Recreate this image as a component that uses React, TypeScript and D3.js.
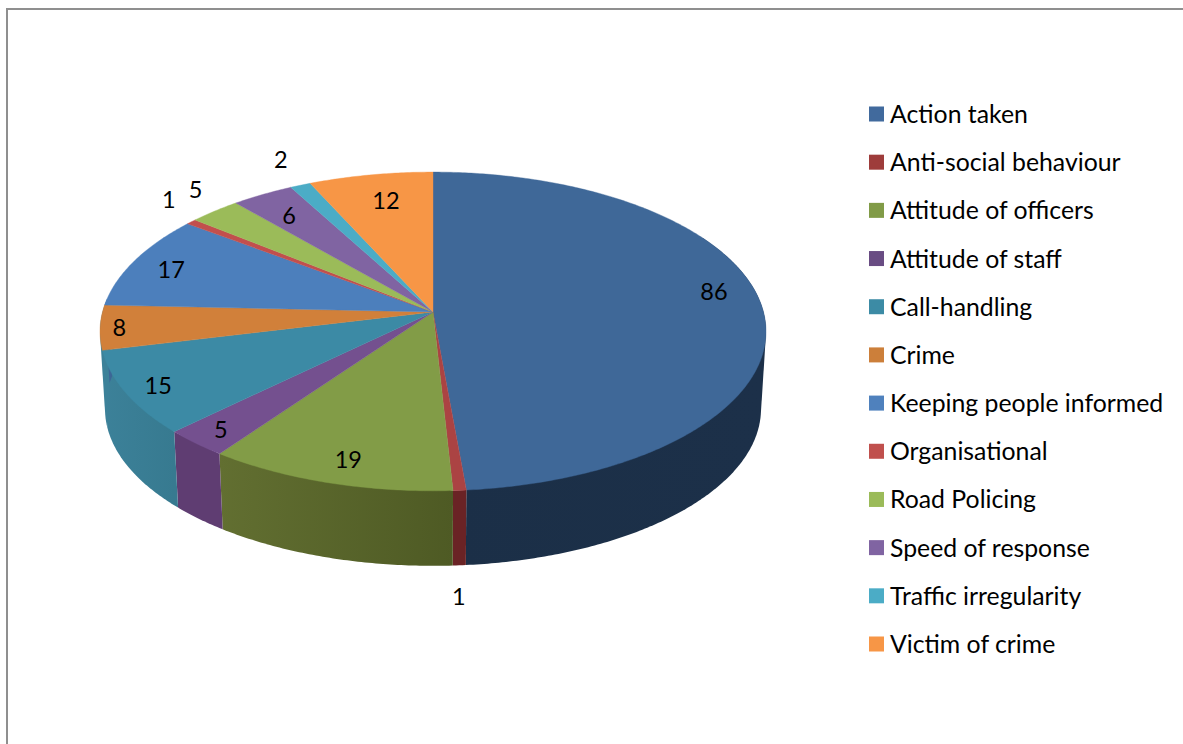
import React from "react";
import * as d3 from "d3";

// Complaint counts per category, clockwise from twelve o'clock.
const categories = [
  "Action taken",
  "Anti-social behaviour",
  "Attitude of officers",
  "Attitude of staff",
  "Call-handling",
  "Crime",
  "Keeping people informed",
  "Organisational",
  "Road Policing",
  "Speed of response",
  "Traffic irregularity",
  "Victim of crime",
];
const counts = [86, 1, 19, 5, 15, 8, 17, 1, 5, 6, 2, 12];

const topColors = ["#3f6898", "#ab4343", "#829c47", "#74508f", "#3c8aa5", "#d1803a", "#4c7fbc", "#c24f4d", "#9bbb59", "#8064a2", "#4bacc6", "#f79646"];
const legendColors = ["#416a9d", "#9e3c3b", "#819b47", "#694c83", "#3c8ba5", "#cc7f3a", "#4f81bd", "#c0504d", "#9bbb59", "#8064a2", "#4bacc6", "#f79646"];
// The sliver of wall under "Crime" sits at the silhouette and reads in the neighbouring teal.
const wallLeft = ["#1b2f47", "#6a2325", "#626f31", "#5f3d72", "#3c8199", "#3c8199", "#3c6696", "#9a3d3b", "#7c9647", "#664f82", "#3b8ca0", "#c67838"];
const wallRight = ["#1c3049", "#6a2325", "#4e5a24", "#5f3d72", "#377a90", "#3c8199", "#3c6696", "#9a3d3b", "#7c9647", "#664f82", "#3b8ca0", "#c67838"];

// Per-label shift away from the slice's inner anchor, as the chart's automatic placement leaves them.
const labelShiftX = [18, 5, -3, -26, -32, -48, -21, -68, -60, -5, -44, 4];
const labelShiftY = [-15, 145, 14, 14, 9, 3, -2, -40, -41, -1, -50, 0];

const FONT = "Lato, Carlito, sans-serif";
const CENTER_X = 433;
const TOP_APEX_Y = 312;
const BOTTOM_APEX_Y = 389.7;
const RADIUS_X = 330.5;
const RADIUS_Y = 157;
const PERSPECTIVE = 0.122;
const BOTTOM_SCALE = 0.985;
// Range of pie angles whose outer wall can face the viewer.
const WALL_FROM = Math.PI / 3;
const WALL_TO = (275 / 180) * Math.PI;

// Perspective projection of a point on the pie disc; angle 0 is the far side.
function project(angle: number, r: number, apexY: number, scale: number): [number, number] {
  const u = r * Math.sin(angle);
  const v = -r * Math.cos(angle);
  const s = scale / (1 - PERSPECTIVE * v);
  return [CENTER_X + RADIUS_X * u * s, apexY + RADIUS_Y * v * s];
}

const arcAngles = (a0: number, a1: number) => {
  const n = Math.max(2, Math.ceil((a1 - a0) / 0.01));
  return d3.range(n + 1).map((i) => a0 + ((a1 - a0) * i) / n);
};

const pathOf = d3.line();

const slices = d3.pie<number>().sort(null)(counts);

const legendY = d3
  .scalePoint<string>()
  .domain(categories)
  .range([113.5, 643.5]);

export default function App() {
  return (
    <svg
      width={1183}
      height={744}
      viewBox="0 0 1183 744"
      style={{ position: "absolute", left: 0, top: 0, display: "block", background: "#fff" }}
    >
      <defs>
        {slices.map((s, i) => {
          const xs = arcAngles(s.startAngle, s.endAngle).map((a) => project(a, 1, TOP_APEX_Y, 1)[0]);
          return (
            <linearGradient
              key={i}
              id={`wall-${i}`}
              gradientUnits="userSpaceOnUse"
              x1={d3.min(xs)}
              x2={d3.max(xs)}
              y1={0}
              y2={0}
            >
              <stop offset="0" stopColor={wallLeft[i]} />
              <stop offset="1" stopColor={wallRight[i]} />
            </linearGradient>
          );
        })}
      </defs>

      {/* outer frame: only the top and left edges fall inside the canvas */}
      <path d="M7 744V9H1183" fill="none" stroke="#8f8f8f" strokeWidth={2} />

      {/* side walls: the hull of both rims also fills the tangent at the silhouette */}
      {slices.map((s, i) => {
        const a0 = Math.max(s.startAngle, WALL_FROM);
        const a1 = Math.min(s.endAngle, WALL_TO);
        if (a1 <= a0) return null;
        const angles = arcAngles(a0, a1);
        const hull = d3.polygonHull([
          ...angles.map((a) => project(a, 1, TOP_APEX_Y, 1)),
          ...angles.map((a) => project(a, 1, BOTTOM_APEX_Y, BOTTOM_SCALE)),
        ]);
        return <path key={i} d={pathOf(hull!) + "Z"} fill={`url(#wall-${i})`} />;
      })}

      {/* top faces */}
      {slices.map((s, i) => {
        const rim = arcAngles(s.startAngle, s.endAngle).map((a) => project(a, 1, TOP_APEX_Y, 1));
        return (
          <path
            key={i}
            d={pathOf([[CENTER_X, TOP_APEX_Y], ...rim]) + "Z"}
            fill={topColors[i]}
            stroke={topColors[i]}
            strokeWidth={0.4}
          />
        );
      })}

      {/* value labels */}
      {slices.map((s, i) => {
        const [x, y] = project((s.startAngle + s.endAngle) / 2, 0.8, TOP_APEX_Y, 1);
        return (
          <text
            key={i}
            x={x + labelShiftX[i]}
            y={y + labelShiftY[i]}
            textAnchor="middle"
            dominantBaseline="central"
            fontFamily={FONT}
            fontSize={23.5}
            fill="#000"
          >
            {counts[i]}
          </text>
        );
      })}

      {/* legend */}
      {categories.map((c, i) => (
        <g key={c}>
          <rect x={869} y={legendY(c)! - 7} width={15} height={15} fill={legendColors[i]} />
          <text x={890} y={legendY(c)!} dominantBaseline="central" fontFamily={FONT} fontSize={24.8} fill="#000">
            {c}
          </text>
        </g>
      ))}
    </svg>
  );
}
